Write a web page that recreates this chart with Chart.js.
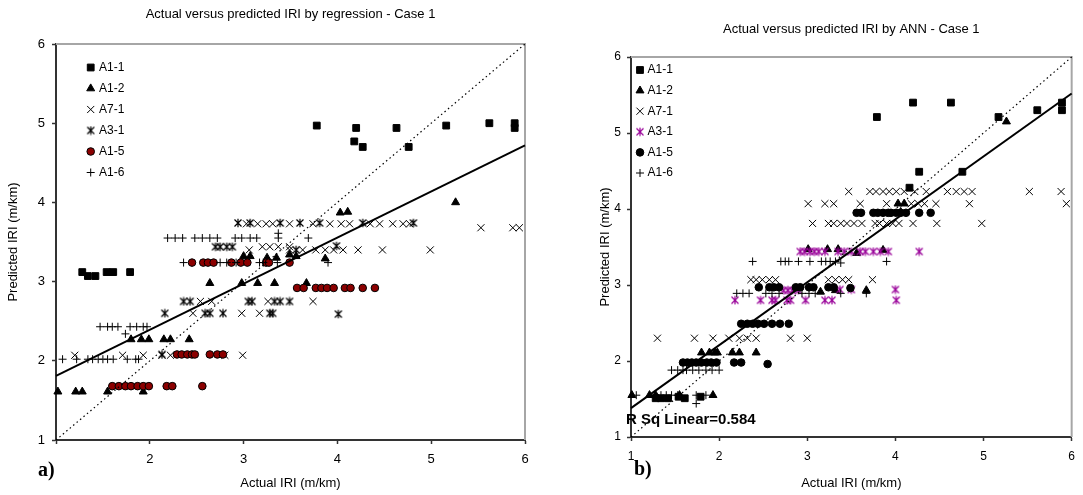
<!DOCTYPE html>
<html><head><meta charset="utf-8">
<script src="https://cdn.jsdelivr.net/npm/chart.js@4.4.0/dist/chart.umd.min.js"></script>
<style>
html,body{margin:0;padding:0;background:#fff;width:1083px;height:495px;overflow:hidden;}
.wrap{position:absolute;top:0;height:495px;}
canvas{display:block;}
</style></head><body>
<div class="wrap" style="left:0;width:545px"><canvas id="c1" width="545" height="495"></canvas></div>
<div class="wrap" style="left:560px;width:523px"><canvas id="c2" width="523" height="495"></canvas></div>
<script>
const seriesNames = ['A1-1','A1-2','A7-1','A3-1','A1-5','A1-6'];
const axisTicks = [1,2,3,4,5,6];
const titleLeft = 'Actual versus predicted IRI by regression - Case 1';
const titleRight = 'Actual versus predicted IRI by ANN - Case 1';
const xTitle = 'Actual IRI (m/km)';
const yTitle = 'Predicted IRI (m/km)';
const rSqText = 'R Sq Linear=0.584';

// ---------- Regression (left) ----------
const regA11x = [1.28,1.34,1.42,1.54,1.61,1.79,3.78,4.20,4.18,4.27,4.63,4.76,5.16,5.62,5.89,5.89];
const regA11y = [3.12,3.07,3.07,3.12,3.12,3.12,4.97,4.94,4.77,4.70,4.94,4.70,4.97,5.00,5.00,4.94];

const regA12x = [1.02,1.21,1.28,1.55,1.93,1.80,1.91,1.99,2.15,2.22,2.42,2.64,2.98,3.15,3.33,3.67,3.00,3.07,3.25,3.35,3.49,3.56,3.87,4.03,4.11,5.26];
const regA12y = [1.61,1.61,1.61,1.61,1.61,2.27,2.27,2.27,2.27,2.27,2.27,2.98,2.98,2.98,2.98,2.98,3.32,3.32,3.30,3.30,3.34,3.32,3.29,3.87,3.88,4.00];

const regA71x = [3.03,3.15,3.24,3.31,3.49,3.74,3.92,4.04,4.13,4.35,4.45,4.59,4.70,4.77,
                 5.53,5.87,5.94,
                 3.20,3.28,3.37,3.49,
                 3.06,3.49,3.63,3.77,3.87,3.96,4.06,4.22,4.48,4.99,
                 2.54,2.66,3.26,3.74,
                 2.46,2.98,3.17,
                 1.20,1.71,1.93,2.13,2.22,2.80,2.99];
const regA71y = [3.73,3.73,3.73,3.73,3.73,3.73,3.73,3.73,3.73,3.73,3.73,3.73,3.73,3.73,
                 3.68,3.68,3.68,
                 3.44,3.44,3.44,3.44,
                 3.40,3.40,3.40,3.40,3.40,3.40,3.40,3.40,3.40,3.40,
                 2.75,2.75,2.75,2.75,
                 2.60,2.60,2.60,
                 2.07,2.07,2.07,2.07,2.07,2.07,2.07];

const regA31x = [2.94,3.07,3.39,3.60,3.81,4.27,4.81,
                 2.70,2.75,2.82,2.88,3.99,
                 3.56,
                 2.36,2.43,3.05,3.09,3.33,3.39,3.49,
                 2.16,2.59,2.64,2.78,3.28,3.31,4.01,
                 2.13];
const regA31y = [3.74,3.74,3.74,3.74,3.74,3.74,3.74,
                 3.44,3.44,3.44,3.44,3.45,
                 3.40,
                 2.75,2.75,2.75,2.75,2.75,2.75,2.75,
                 2.60,2.60,2.60,2.60,2.60,2.60,2.59,
                 2.08];

const regA15x = [2.45,2.57,2.62,2.68,2.87,2.97,3.04,3.24,3.27,3.49,
                 3.57,3.64,3.77,3.83,3.89,3.96,4.08,4.14,4.27,4.40,
                 2.29,2.34,2.40,2.45,2.48,2.64,2.72,2.78,
                 1.60,1.67,1.74,1.80,1.87,1.93,1.99,2.18,2.24,2.56];
const regA15y = [3.24,3.24,3.24,3.24,3.24,3.24,3.24,3.24,3.24,3.24,
                 2.92,2.92,2.92,2.92,2.92,2.92,2.92,2.92,2.92,2.92,
                 2.08,2.08,2.08,2.08,2.08,2.08,2.08,2.08,
                 1.68,1.68,1.68,1.68,1.68,1.68,1.68,1.68,1.68,1.68];

const regA16x = [2.19,2.27,2.35,2.48,2.56,2.64,2.72,2.91,2.98,3.07,3.14,3.37,3.69,
                 3.37,
                 2.36,2.75,2.82,2.92,3.17,3.21,3.36,3.90,
                 1.47,1.55,1.60,1.66,1.79,1.86,1.93,1.97,
                 1.74,
                 1.07,1.22,1.34,1.39,1.45,1.50,1.55,1.61,1.76,1.85,1.88];
const regA16y = [3.55,3.55,3.55,3.55,3.55,3.55,3.55,3.55,3.55,3.55,3.55,3.55,3.55,
                 3.61,
                 3.24,3.24,3.24,3.24,3.24,3.24,3.24,3.24,
                 2.43,2.43,2.43,2.43,2.43,2.43,2.43,2.43,
                 2.34,
                 2.02,2.02,2.02,2.02,2.02,2.02,2.02,2.02,2.02,2.02,2.02];

const regFitX = [1, 6];
const regFitY = [1.81, 4.72];

// ---------- ANN (right) ----------
const annA11x = [1.28,1.34,1.42,1.54,1.61,1.79,3.79,4.20,4.63,4.27,4.16,4.76,5.17,5.61,5.89,5.89];
const annA11y = [1.51,1.51,1.51,1.53,1.51,1.53,5.21,5.40,5.40,4.49,4.28,4.49,5.21,5.30,5.40,5.30];

const annA12x = [1.01,1.21,1.28,1.55,1.93,1.80,1.89,1.95,1.98,2.15,2.23,2.42,3.15,3.32,3.67,3.01,3.23,3.35,3.56,3.86,4.03,4.10,4.06,5.26];
const annA12y = [1.55,1.55,1.55,1.55,1.55,2.11,2.11,2.11,2.11,2.11,2.11,2.11,2.91,2.93,2.93,3.47,3.47,3.47,3.42,3.46,4.07,4.07,3.96,5.15];

const annA71x = [3.47,3.71,3.78,3.86,3.93,4.01,4.10,4.22,4.35,4.59,4.69,4.78,4.87,5.52,5.88,
                 3.01,3.20,3.30,3.60,3.90,4.18,4.26,4.33,4.46,4.84,5.94,
                 3.06,3.24,3.30,3.38,3.45,3.53,3.62,3.77,3.82,3.90,3.97,4.04,4.20,4.47,4.98,
                 2.36,2.42,2.49,2.57,2.64,3.24,3.32,3.40,3.47,3.74,
                 1.30,1.72,1.93,2.11,2.23,2.32,2.42,2.81,3.00];
const annA71y = [4.23,4.23,4.23,4.23,4.23,4.23,4.23,4.23,4.23,4.23,4.23,4.23,4.23,4.23,4.23,
                 4.07,4.07,4.07,4.07,4.07,4.07,4.07,4.07,4.07,4.07,4.07,
                 3.81,3.81,3.81,3.81,3.81,3.81,3.81,3.81,3.81,3.81,3.81,3.81,3.81,3.81,3.81,
                 3.07,3.07,3.07,3.07,3.07,3.07,3.07,3.07,3.07,3.07,
                 2.30,2.30,2.30,2.30,2.30,2.30,2.30,2.30,2.30];

const annA31x = [2.92,2.97,3.03,3.08,3.13,3.20,3.35,3.42,3.50,3.60,3.66,3.75,3.83,3.92,4.27,
                 2.73,2.78,2.83,2.90,3.37,3.50,4.00,
                 2.18,2.47,2.60,2.64,2.77,2.81,2.98,3.20,3.28,4.01];
const annA31y = [3.44,3.44,3.44,3.44,3.44,3.44,3.44,3.44,3.44,3.44,3.44,3.44,3.44,3.44,3.44,
                 2.93,2.93,2.93,2.93,2.94,2.94,2.94,
                 2.80,2.80,2.80,2.80,2.80,2.80,2.80,2.80,2.80,2.80];

const annA15x = [3.56,3.61,3.75,3.80,3.86,3.92,3.95,4.01,4.06,4.12,4.27,4.40,
                 2.45,2.57,2.62,2.68,2.87,2.92,3.02,3.07,3.24,3.30,3.49,
                 2.25,2.32,2.38,2.44,2.51,2.60,2.69,2.79,
                 1.59,1.64,1.69,1.74,1.80,1.86,1.91,1.97,2.17,2.25,2.55];
const annA15y = [3.95,3.95,3.95,3.95,3.95,3.95,3.95,3.95,3.95,3.95,3.95,3.95,
                 2.97,2.97,2.97,2.97,2.97,2.97,2.97,2.97,2.97,2.97,2.96,
                 2.49,2.49,2.49,2.49,2.49,2.49,2.49,2.49,
                 1.98,1.98,1.98,1.98,1.98,1.98,1.98,1.98,1.98,1.98,1.96];

const annA16x = [2.38,2.70,2.75,2.79,2.90,3.03,3.16,3.21,3.26,3.32,3.38,3.90,
                 2.20,2.27,2.34,2.53,2.60,2.68,2.94,3.02,3.09,3.38,3.67,
                 1.46,1.53,1.59,1.63,1.70,1.77,1.85,1.92,2.00,
                 1.06,1.27,1.34,1.40,1.46,1.53,1.74,1.85,
                 1.74];
const annA16y = [3.31,3.31,3.31,3.31,3.31,3.31,3.31,3.31,3.31,3.31,3.29,3.31,
                 2.89,2.89,2.89,2.89,2.89,2.89,2.89,2.89,2.89,2.89,2.89,
                 1.88,1.88,1.88,1.88,1.88,1.88,1.88,1.88,1.88,
                 1.55,1.55,1.55,1.55,1.55,1.55,1.55,1.55,
                 1.44];

const annFitX = [1, 6];
const annFitY = [1.38, 5.52];
const diagX = [1, 6];
const diagY = [1, 6];

// ---------- helpers ----------
const pts = (xs, ys) => xs.map((x, i) => ({x: x, y: ys[i]}));

function makeStar(color) {
  const c = document.createElement('canvas');
  c.width = 10; c.height = 10;
  const g = c.getContext('2d');
  g.strokeStyle = color; g.lineWidth = 1.2;
  g.beginPath();
  g.moveTo(1.5, 1.5); g.lineTo(8.5, 8.5);
  g.moveTo(8.5, 1.5); g.lineTo(1.5, 8.5);
  g.moveTo(5, 0.8); g.lineTo(5, 9.2);
  g.stroke();
  return c;
}

function markerDs(label, data, style, radius, fill, border, order) {
  return {
    label: label, data: data, showLine: false, order: order, clip: false,
    pointStyle: style, pointRadius: radius, pointHoverRadius: radius,
    pointBackgroundColor: fill, pointBorderColor: border, pointBorderWidth: 1,
    backgroundColor: fill, borderColor: border
  };
}
function lineDs(label, data, width, dash, order) {
  return {
    label: label, data: data, showLine: true, order: order, clip: false,
    pointRadius: 0, borderColor: '#000', borderWidth: width, borderDash: dash,
    backgroundColor: '#000', fill: false, isLine: true
  };
}

Chart.defaults.font.family = '"Liberation Sans", Arial, sans-serif';
Chart.defaults.color = '#000';

const legendPlugin = {
  id: 'customLegend',
  afterDatasetsDraw(chart, args, opts) {
    const ctx = chart.ctx;
    ctx.save();
    ctx.font = opts.font;
    ctx.textBaseline = 'middle';
    ctx.textAlign = 'left';
    let i = 0;
    chart.data.datasets.forEach(ds => {
      if (ds.isLine) return;
      const y = opts.y + i * opts.dy;
      ctx.fillStyle = ds.pointBackgroundColor;
      ctx.strokeStyle = ds.pointBorderColor;
      ctx.lineWidth = ds.pointBorderWidth;
      Chart.helpers.drawPoint(ctx, {pointStyle: ds.pointStyle, radius: ds.pointRadius, borderWidth: ds.pointBorderWidth, rotation: 0}, opts.x, y);
      ctx.fillStyle = '#000';
      ctx.fillText(ds.label, opts.tx, y);
      i++;
    });
    ctx.restore();
  }
};

const framePlugin = {
  id: 'frame',
  beforeDatasetsDraw(chart) {
    const a = chart.chartArea, ctx = chart.ctx;
    ctx.save();
    ctx.strokeStyle = '#a6a6a6';
    ctx.lineWidth = 2;
    ctx.beginPath();
    ctx.moveTo(a.left, a.top);
    ctx.lineTo(a.right, a.top);
    ctx.lineTo(a.right, a.bottom);
    ctx.stroke();
    ctx.restore();
  }
};

const textPlugin = {
  id: 'extraText',
  afterDraw(chart, args, opts) {
    const ctx = chart.ctx;
    ctx.save();
    (opts.items || []).forEach(t => {
      ctx.font = t.font;
      ctx.textBaseline = 'alphabetic';
      ctx.textAlign = 'left';
      ctx.fillStyle = '#000';
      ctx.fillText(t.text, t.x, t.y);
    });
    ctx.restore();
  }
};

function axisOpts(fontSize, pad, title, titleSize, titlePad, fitSize, horizontal, hideFirst) {
  return {
    type: 'linear', min: 1, max: 6,
    afterBuildTicks: s => { s.ticks = axisTicks.map(v => ({value: v})); },
    ticks: { font: {size: fontSize}, padding: pad, color: '#000',
             callback: v => (hideFirst && v === axisTicks[0]) ? '' : String(v) },
    grid: { display: true, drawOnChartArea: false, drawTicks: true, tickLength: 4, tickColor: '#333', tickWidth: 1.5 },
    border: { display: true, color: '#333', width: 2 },
    title: { display: true, text: title, font: {size: titleSize}, padding: titlePad, color: '#000' },
    afterFit: s => { if (horizontal) s.height = fitSize; else s.width = fitSize; }
  };
}

function build(canvasId, cfg) {
  const star = makeStar(cfg.starColor);
  const datasets = [
    lineDs('fit', pts(cfg.fitX, cfg.fitY), 2, [], 0),
    lineDs('diag', pts(diagX, diagY), 1.2, [1.5, 3], 1),
    markerDs(seriesNames[0], pts(cfg.a11x, cfg.a11y), 'rect', 4.8, '#000', '#000', 7),
    markerDs(seriesNames[1], pts(cfg.a12x, cfg.a12y), 'triangle', 4.6, '#000', '#000', 6),
    markerDs(seriesNames[2], pts(cfg.a71x, cfg.a71y), 'crossRot', 5, '#000', '#000', 5),
    markerDs(seriesNames[3], pts(cfg.a31x, cfg.a31y), star, 5, cfg.starColor, cfg.starColor, 4),
    markerDs(seriesNames[4], pts(cfg.a15x, cfg.a15y), 'circle', 3.8, cfg.circleColor, '#000', 3),
    markerDs(seriesNames[5], pts(cfg.a16x, cfg.a16y), 'cross', 4, '#000', '#000', 2)
  ];
  return new Chart(document.getElementById(canvasId), {
    type: 'scatter',
    data: { datasets: datasets },
    plugins: [framePlugin, legendPlugin, textPlugin],
    options: {
      responsive: false, animation: false, devicePixelRatio: 1,
      layout: { padding: cfg.layoutPad },
      plugins: {
        legend: { display: false },
        tooltip: { enabled: false },
        title: { display: true, text: cfg.title, fullSize: false, font: {size: cfg.titleSize, weight: 'normal'}, color: '#000', padding: cfg.titlePad },
        customLegend: cfg.legend,
        extraText: { items: cfg.texts }
      },
      scales: {
        x: axisOpts(cfg.tickSize, cfg.xTickPad, xTitle, cfg.axisTitleSize, cfg.xTitlePad, cfg.xFit, true, cfg.hideFirstX),
        y: axisOpts(cfg.tickSize, cfg.yTickPad, yTitle, cfg.axisTitleSize, cfg.yTitlePad, cfg.yFit, false, false)
      }
    }
  });
}

build('c1', {
  title: titleLeft, titleSize: 13, titlePad: {top: 7, bottom: 21.4},
  layoutPad: {left: 0, right: 20, top: 0, bottom: 0},
  tickSize: 13, xTickPad: 8, yTickPad: 7, axisTitleSize: 13,
  xTitlePad: {top: 4, bottom: 4}, yTitlePad: {top: 6, bottom: 0},
  xFit: 55, yFit: 56, hideFirstX: true,
  starColor: '#000', circleColor: '#8b0000',
  a11x: regA11x, a11y: regA11y, a12x: regA12x, a12y: regA12y,
  a71x: regA71x, a71y: regA71y, a31x: regA31x, a31y: regA31y,
  a15x: regA15x, a15y: regA15y, a16x: regA16x, a16y: regA16y,
  fitX: regFitX, fitY: regFitY,
  legend: { x: 90.7, y: 67.5, dy: 21, tx: 99, font: '12px "Liberation Sans", Arial, sans-serif' },
  texts: [ { text: 'a)', x: 38, y: 476, font: 'bold 20px "Liberation Serif", "Times New Roman", serif' } ]
});

build('c2', {
  title: titleRight, titleSize: 13, titlePad: {top: 22, bottom: 19.4},
  layoutPad: {left: 0, right: 8, top: 0, bottom: 0},
  tickSize: 12, xTickPad: 8, yTickPad: 6, axisTitleSize: 13,
  xTitlePad: {top: 4, bottom: 4}, yTitlePad: {top: 38, bottom: 0},
  xFit: 58, yFit: 71, hideFirstX: false,
  starColor: '#990099', circleColor: '#000',
  a11x: annA11x, a11y: annA11y, a12x: annA12x, a12y: annA12y,
  a71x: annA71x, a71y: annA71y, a31x: annA31x, a31y: annA31y,
  a15x: annA15x, a15y: annA15y, a16x: annA16x, a16y: annA16y,
  fitX: annFitX, fitY: annFitY,
  legend: { x: 80, y: 70, dy: 20.6, tx: 87.5, font: '12px "Liberation Sans", Arial, sans-serif' },
  texts: [
    { text: rSqText, x: 66, y: 424, font: 'bold 15px "Liberation Sans", Arial, sans-serif' },
    { text: 'b)', x: 74, y: 475, font: 'bold 20px "Liberation Serif", "Times New Roman", serif' }
  ]
});
</script>
</body></html>
